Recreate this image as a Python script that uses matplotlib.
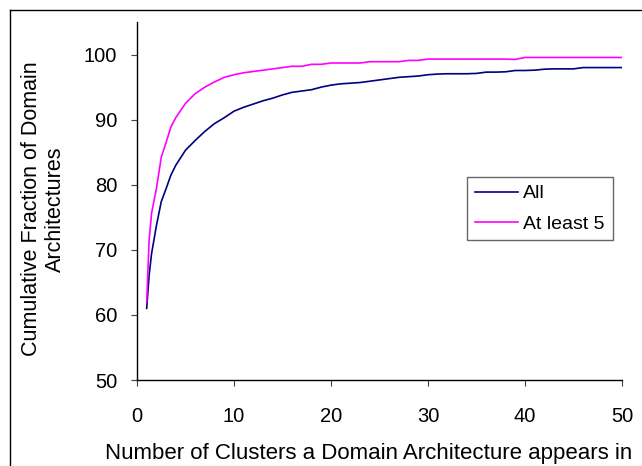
import matplotlib
matplotlib.use('Agg')
import matplotlib.pyplot as plt
from matplotlib.lines import Line2D

plt.rcParams['font.family'] = ['Liberation Sans', 'DejaVu Sans']

# 数据
clusters = [1, 1.25, 1.5, 2, 2.5, 3, 3.5, 4, 5, 6, 7, 8, 9, 10,
            11, 12, 13, 14, 15, 16, 17, 18, 19, 20,
            21, 22, 23, 24, 25, 26, 27, 28, 29, 30,
            31, 32, 33, 34, 35, 36, 37, 38, 39, 40,
            41, 42, 43, 44, 45, 46, 47, 48, 49, 50]

frac_all = [61.0, 66.1, 69.4, 73.7, 77.4, 79.4, 81.5, 83.0, 85.3, 86.8, 88.2, 89.4, 90.3, 91.3,
            91.9, 92.4, 92.9, 93.3, 93.8, 94.2, 94.4, 94.6, 95.0, 95.3,
            95.5, 95.6, 95.7, 95.9, 96.1, 96.3, 96.5, 96.6, 96.7, 96.9,
            97.0, 97.05, 97.05, 97.05, 97.1, 97.3, 97.3, 97.35, 97.55, 97.55,
            97.6, 97.75, 97.8, 97.8, 97.8, 98.0, 98.0, 98.0, 98.0, 98.0]

frac_least5 = [62.0, 71.5, 75.6, 79.4, 84.2, 86.5, 88.9, 90.3, 92.5, 94.0, 95.0, 95.8, 96.5, 96.9,
               97.2, 97.4, 97.6, 97.8, 98.0, 98.2, 98.2, 98.5, 98.5, 98.7,
               98.7, 98.7, 98.7, 98.9, 98.9, 98.9, 98.9, 99.1, 99.1, 99.3,
               99.3, 99.3, 99.3, 99.3, 99.3, 99.3, 99.3, 99.3, 99.25, 99.55,
               99.55, 99.55, 99.55, 99.55, 99.55, 99.55, 99.55, 99.55, 99.55, 99.55]

x_ticks = [0, 10, 20, 30, 40, 50]
y_ticks = [50, 60, 70, 80, 90, 100]

W, H = 642, 466
fig = plt.figure(figsize=(W / 100, H / 100), dpi=100)
ax = fig.add_axes([137 / W, 1 - 380 / H, (622 - 137) / W, (380 - 22) / H])

ax.plot(clusters, frac_all, color='#000080', linewidth=1.2, label='All')
ax.plot(clusters, frac_least5, color='#FF00FF', linewidth=1.2, label='At least 5')

ax.set_xlim(0, 50)
ax.set_ylim(50, 105)
ax.set_xticks(x_ticks)
ax.set_yticks(y_ticks)
ax.tick_params(direction='out', length=4.3, width=0.8, color='#404040',
               labelsize=14.5)
ax.tick_params(axis='x', pad=15)
ax.tick_params(axis='y', pad=10)
ax.spines['top'].set_visible(False)
ax.spines['right'].set_visible(False)
ax.spines['left'].set_linewidth(1.0)
ax.spines['bottom'].set_linewidth(1.0)

leg = ax.legend(loc='upper left', bbox_to_anchor=((467 - 137) / (622 - 137), (380 - 177) / (380 - 22)),
                fontsize=14, frameon=True, fancybox=False, borderpad=0.4,
                handlelength=2.2, handletextpad=0.3, labelspacing=0.65, borderaxespad=0)
leg.get_frame().set_edgecolor('#404040')
leg.get_frame().set_linewidth(1.0)

fig.text(43.5 / W, 1 - 209 / H, 'Cumulative Fraction of Domain\nArchitectures',
         rotation=90, ha='center', va='center', multialignment='center',
         fontsize=15.5, linespacing=1.2)
fig.text(368.5 / W, 1 - 453 / H, 'Number of Clusters a Domain Architecture appears in',
         ha='center', va='center', fontsize=16)

# 外框
fig.add_artist(Line2D([10 / W, 10 / W], [-0.1, 1 - 10 / H], transform=fig.transFigure,
                      color='black', linewidth=1.0))
fig.add_artist(Line2D([10 / W, 1.1], [1 - 10 / H, 1 - 10 / H], transform=fig.transFigure,
                      color='black', linewidth=1.0))

fig.savefig('out.png', dpi=100)
